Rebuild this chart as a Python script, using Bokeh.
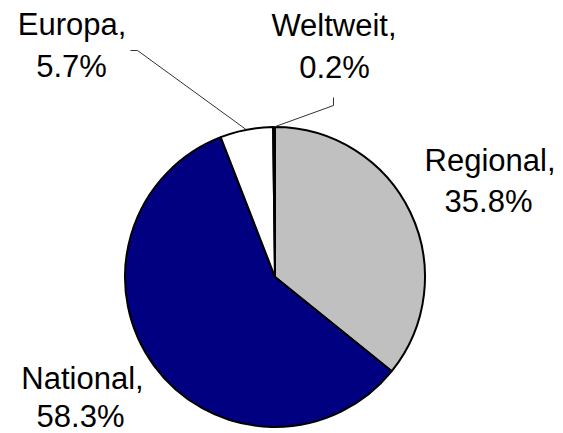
import math
from bokeh.plotting import figure
from bokeh.models import Range1d, ColumnDataSource
from bokeh.core.properties import value
from bokeh.embed import file_html
from bokeh.resources import INLINE

# ---- data ----
categories = ["Regional", "National", "Europa", "Weltweit"]
shares = [35.8, 58.3, 5.7, 0.2]
colors = ["#C0C0C0", "#000080", "#FFFFFF", "#000000"]
label_line1 = ["Regional,", "National,", "Europa,", "Weltweit,"]
label_line2 = ["35.8%", "58.3%", "5.7%", "0.2%"]

# ---- layout (reference pixel coordinates, y downward) ----
W, H = 563, 433
CX, CY, R = 274.5, 276.5, 150.0
FONT_PX = 31
BASE_SHIFT = -12.0
label_x1 = [489.5, 82.0, 71.5, 333.5]
label_y1 = [172.0, 390.0, 36.0, 37.0]
label_x2 = [488.0, 80.0, 71.0, 334.0]
label_y2 = [213.0, 428.0, 77.5, 79.0]
# leader elbows for small slices (Europa, Weltweit)
leader_pts = {"Europa": [(130.0, 50.0), (137.0, 50.0)],
              "Weltweit": [(333.0, 97.0), (333.0, 105.0)]}

def fy(y):
    return H - y

total = sum(shares)
starts, ends, mids = [], [], []
a = math.pi / 2
for s in shares:
    da = 2 * math.pi * s / total
    starts.append(a)
    ends.append(a - da)
    mids.append(a - da / 2)
    a -= da

p = figure(width=W, height=H, output_backend="svg", toolbar_location=None,
           x_range=Range1d(0, W), y_range=Range1d(0, H),
           min_border=0)
p.axis.visible = False
p.grid.visible = False
p.outline_line_color = None
p.background_fill_color = "white"
p.border_fill_color = "white"

src = ColumnDataSource(dict(x=[CX] * 4, y=[fy(CY)] * 4, start=starts, end=ends,
                            color=colors, cat=categories))
p.wedge(x="x", y="y", radius=R, start_angle="end", end_angle="start",
        fill_color="color", line_color="black", line_width=2, source=src)

# leader lines
for i, cat in enumerate(categories):
    if cat in leader_pts:
        pts = leader_pts[cat]
        ex = CX + R * math.cos(mids[i])
        ey = CY - R * math.sin(mids[i])
        xs = [q[0] for q in pts] + [ex]
        ys = [fy(q[1]) for q in pts] + [fy(ey)]
        p.line(xs, ys, line_color="#333333", line_width=1)

p.text(x=label_x1, y=[fy(v + BASE_SHIFT) for v in label_y1], text=label_line1,
       text_font=value("Liberation Sans"), text_font_size=f"{FONT_PX}px",
       text_align="center", text_baseline="alphabetic", text_color="black")
p.text(x=label_x2, y=[fy(v + BASE_SHIFT) for v in label_y2], text=label_line2,
       text_font=value("Liberation Sans"), text_font_size=f"{FONT_PX}px",
       text_align="center", text_baseline="alphabetic", text_color="black")

open("out.html", "w").write(file_html(p, INLINE))
